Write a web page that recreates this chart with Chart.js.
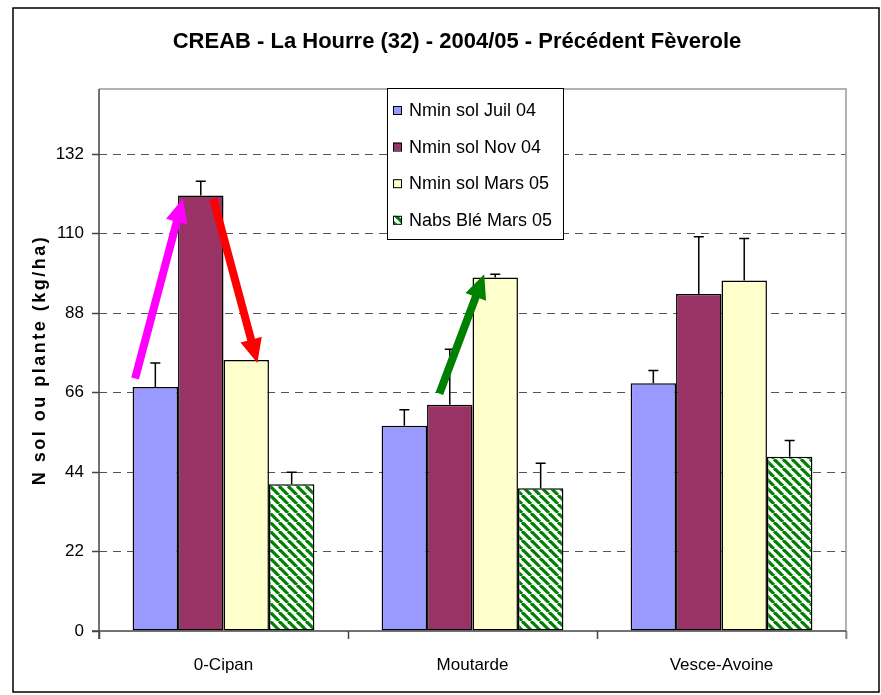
<!DOCTYPE html>
<html>
<head>
<meta charset="utf-8">
<script src="https://cdn.jsdelivr.net/npm/chart.js@4.4.0/dist/chart.umd.min.js"></script>
<style>
  html, body { margin: 0; padding: 0; background: #fff; }
</style>
</head>
<body>
<canvas id="chart" width="881" height="695"></canvas>
<script>
const categories = ['0-Cipan', 'Moutarde', 'Vesce-Avoine']
const seriesNames = ['Nmin sol Juil 04', 'Nmin sol Nov 04', 'Nmin sol Mars 05', 'Nabs Blé Mars 05']
const juil04 = [67.5, 56.8, 68.6]
const juil04Err = [6.7, 4.4, 3.5]
const nov04 = [120.5, 62.6, 93.3]
const nov04Err = [4.0, 15.4, 15.8]
const mars05 = [75.0, 97.8, 97.0]
const mars05Err = [0, 0.9, 11.6]
const nabs05 = [40.6, 39.5, 48.2]
const nabs05Err = [3.3, 6.9, 4.5]
const yTicks = [0, 22, 44, 66, 88, 110, 132]
const yMax = 150
// arrows in data units: [category index, offset in category widths, value]
const arrows = [
    { color: '#FF00FF', from: [0, -0.355, 69.9], to: [0, -0.163, 119.7] },
    { color: '#FF0000', from: [0, -0.041, 119.6], to: [0, 0.136, 74.2] },
    { color: '#008000', from: [1, -0.133, 65.7], to: [1, 0.047, 98.7] },
]
const chartTitle = 'CREAB - La Hourre (32) - 2004/05 - Précédent Fèverole'
const yTitle = 'N sol ou plante (kg/ha)'

const FONT = "'Liberation Sans', Arial, sans-serif"

function stripePattern() {
    const c = document.createElement('canvas')
    c.width = 9; c.height = 9
    const g = c.getContext('2d')
    g.fillStyle = '#fff'
    g.fillRect(0, 0, 9, 9)
    g.strokeStyle = '#008000'
    g.lineWidth = 3.2
    for (const k of [-9, 0, 9]) {
        g.beginPath()
        g.moveTo(k, 0)
        g.lineTo(k + 9, 9)
        g.stroke()
    }
    return g.createPattern(c, 'repeat')
}

const colors = ['#9999FF', '#993366', '#FFFFCC', stripePattern()]
const values = [juil04, nov04, mars05, nabs05]
const errors = [juil04Err, nov04Err, mars05Err, nabs05Err]

const framePlugin = {
    id: 'frame',
    beforeDraw(chart) {
        const ctx = chart.ctx
        ctx.save()
        ctx.fillStyle = '#fff'
        ctx.fillRect(0, 0, chart.width, chart.height)
        ctx.strokeStyle = '#000'
        ctx.lineWidth = 1.5
        ctx.strokeRect(13, 8, 866, 684)
        // title
        ctx.fillStyle = '#000'
        ctx.font = 'bold 22px ' + FONT
        ctx.textAlign = 'center'
        ctx.textBaseline = 'middle'
        ctx.fillText(chartTitle, 457, 42)
        ctx.restore()
    },
    afterDatasetsDraw(chart) {
        const ctx = chart.ctx
        const a = chart.chartArea
        ctx.save()
        // top and right plot border
        ctx.strokeStyle = '#999'
        ctx.lineWidth = 1.5
        ctx.beginPath()
        ctx.moveTo(a.left, a.top)
        ctx.lineTo(a.right, a.top)
        ctx.lineTo(a.right, a.bottom + 8)
        ctx.stroke()
        // axes
        ctx.strokeStyle = '#444'
        ctx.beginPath()
        ctx.moveTo(a.left, a.top)
        ctx.lineTo(a.left, a.bottom + 8)
        ctx.moveTo(a.left - 7, a.bottom)
        ctx.lineTo(a.right, a.bottom)
        ctx.stroke()

        // error bars
        const y = chart.scales.y
        ctx.strokeStyle = '#000'
        ctx.lineWidth = 1.5
        chart.data.datasets.forEach((ds, di) => {
            const meta = chart.getDatasetMeta(di)
            meta.data.forEach((bar, i) => {
                const err = errors[di][i]
                if (!err) return
                const top = y.getPixelForValue(ds.data[i] + err)
                ctx.beginPath()
                ctx.moveTo(bar.x, bar.y)
                ctx.lineTo(bar.x, top)
                ctx.moveTo(bar.x - 5, top)
                ctx.lineTo(bar.x + 5, top)
                ctx.stroke()
            })
        })

        // arrows
        const x = chart.scales.x
        const catW = x.getPixelForValue(1) - x.getPixelForValue(0)
        const px = p => [x.getPixelForValue(p[0]) + p[1] * catW, y.getPixelForValue(p[2])]
        arrows.forEach(ar => {
            const [x0, y0] = px(ar.from)
            const [x1, y1] = px(ar.to)
            const ang = Math.atan2(y1 - y0, x1 - x0)
            const headLen = 24, headW = 11, shaft = 4
            const len = Math.hypot(x1 - x0, y1 - y0)
            ctx.save()
            ctx.translate(x0, y0)
            ctx.rotate(ang)
            ctx.fillStyle = ar.color
            ctx.beginPath()
            ctx.moveTo(0, -shaft)
            ctx.lineTo(len - headLen, -shaft)
            ctx.lineTo(len - headLen, -headW)
            ctx.lineTo(len, 0)
            ctx.lineTo(len - headLen, headW)
            ctx.lineTo(len - headLen, shaft)
            ctx.lineTo(0, shaft)
            ctx.closePath()
            ctx.fill()
            ctx.restore()
        })
        ctx.restore()
    },
    afterDraw(chart) {
        const ctx = chart.ctx
        ctx.save()
        // y axis title
        ctx.translate(40, 360)
        ctx.rotate(-Math.PI / 2)
        ctx.font = 'bold 18px ' + FONT
        ctx.letterSpacing = '2.5px'
        ctx.fillStyle = '#000'
        ctx.textAlign = 'center'
        ctx.textBaseline = 'middle'
        ctx.fillText(yTitle, 0, 0)
        ctx.restore()

        // legend
        ctx.save()
        const lx = 387, ly = 88, lw = 176, lh = 151
        ctx.fillStyle = '#fff'
        ctx.fillRect(lx, ly, lw, lh)
        ctx.strokeStyle = '#000'
        ctx.lineWidth = 1
        ctx.strokeRect(lx + 0.5, ly + 0.5, lw, lh)
        ctx.font = '18px ' + FONT
        ctx.textBaseline = 'middle'
        chart.data.datasets.forEach((ds, i) => {
            const cy = 110 + i * 36.6
            ctx.fillStyle = ds.backgroundColor
            ctx.fillRect(393, cy - 4, 8, 8)
            ctx.strokeRect(393.5, cy - 3.5, 8, 8)
            ctx.fillStyle = '#000'
            ctx.fillText(ds.label, 409, cy + 1)
        })
        ctx.restore()
    }
}

new Chart(document.getElementById('chart'), {
    type: 'bar',
    data: {
        labels: categories,
        datasets: seriesNames.map((name, i) => ({
            label: name,
            data: values[i],
            backgroundColor: colors[i],
            borderColor: '#000',
            borderWidth: 1.5,
            borderSkipped: false,
            barPercentage: 1,
            categoryPercentage: 0.73,
        }))
    },
    options: {
        responsive: false,
        animation: false,
        devicePixelRatio: 1,
        layout: { padding: { left: 0, right: 35, top: 89, bottom: 0 } },
        plugins: {
            legend: { display: false },
            tooltip: { enabled: false },
            title: { display: false },
        },
        scales: {
            x: {
                afterFit(scale) { scale.height = 64 },
                grid: { offset: true, drawOnChartArea: false, tickLength: 8, tickColor: '#444', tickWidth: 1.5 },
                border: { display: false },
                ticks: { color: '#000', padding: 16, font: { family: FONT, size: 17 } },
            },
            y: {
                min: 0,
                max: yMax,
                afterFit(scale) { scale.width = 99 },
                afterBuildTicks(scale) { scale.ticks = yTicks.map(v => ({ value: v })) },
                grid: {
                    color: ctx => ctx.tick && ctx.tick.value === 0 ? 'rgba(0,0,0,0)' : '#555',
                    lineWidth: 1,
                    tickLength: 7,
                    tickColor: '#444',
                    tickWidth: 1.5,
                    tickBorderDash: [],
                },
                border: { display: false, dash: [8, 6] },
                ticks: { color: '#000', padding: 8, font: { family: FONT, size: 17 } },
            }
        }
    },
    plugins: [framePlugin]
})
</script>
</body>
</html>
